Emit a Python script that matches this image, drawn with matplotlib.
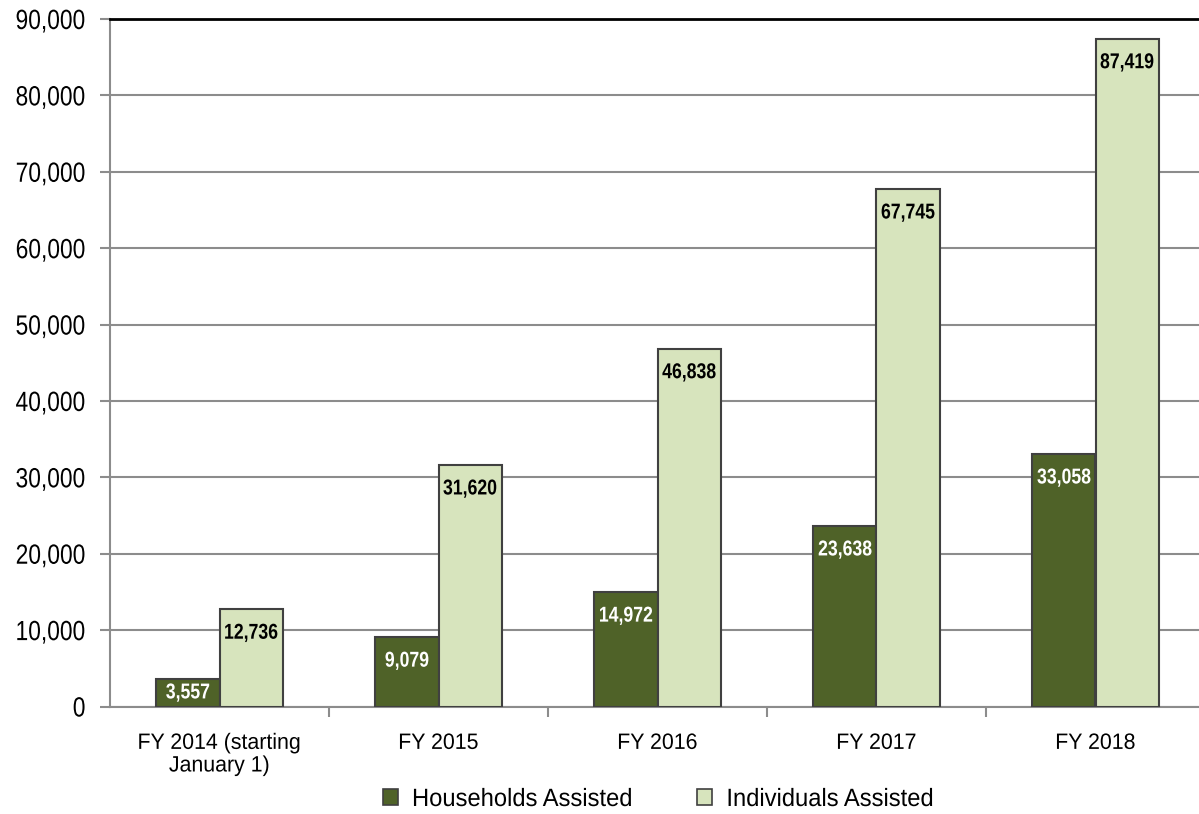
import matplotlib
matplotlib.use("Agg")
import matplotlib.pyplot as plt
from matplotlib.patches import Patch
from matplotlib.ticker import FuncFormatter, FixedLocator
from matplotlib.patheffects import AbstractPathEffect
from matplotlib.transforms import Affine2D
import numpy as np

categories = ["FY 2014 (starting\nJanuary 1)", "FY 2015", "FY 2016", "FY 2017", "FY 2018"]
households = [3557, 9079, 14972, 23638, 33058]
individuals = [12736, 31620, 46838, 67745, 87419]
series_names = ["Households Assisted", "Individuals Assisted"]

plt.rcParams['font.family'] = ['Liberation Sans', 'DejaVu Sans']


class Condense(AbstractPathEffect):
    """Horizontally compress text glyphs (emulates a narrow typeface)."""
    def __init__(self, sx=0.82, anchor='center'):
        super().__init__()
        self.sx = sx
        self.anchor = anchor

    def draw_path(self, renderer, gc, tpath, affine, rgbFace=None):
        verts = affine.transform(tpath.vertices)
        if len(verts) == 0:
            renderer.draw_path(gc, tpath, affine, rgbFace)
            return
        x0, x1 = verts[:, 0].min(), verts[:, 0].max()
        a = {'center': (x0 + x1) / 2, 'right': x1, 'left': x0}[self.anchor]
        t = affine + Affine2D().translate(-a, 0).scale(self.sx, 1).translate(a, 0)
        renderer.draw_path(gc, tpath, t, rgbFace)


W, H = 1199, 814
fig = plt.figure(figsize=(W/100, H/100), dpi=100)
left, right, bottom, top = 110, 1205, 706.5, 19
ax = fig.add_axes([left/W, (H-bottom)/H, (right-left)/W, (bottom-top)/H])

dark = "#4F6228"
light = "#D7E4BD"
edge = "#404040"
grid_c = "#8C8C8C"

x = np.arange(len(categories))
w = 0.288
b1 = ax.bar(x - w/2, households, w, color=dark, edgecolor=edge, linewidth=1.5, zorder=3)
b2 = ax.bar(x + w/2, individuals, w, color=light, edgecolor=edge, linewidth=1.5, zorder=3)

ax.set_xlim(-0.5, len(categories) - 0.5)
ax.set_ylim(0, 90000)
ax.yaxis.set_major_locator(FixedLocator(np.arange(0, 90001, 10000)))
ax.yaxis.set_major_formatter(FuncFormatter(lambda v, p: f"{int(v):,}"))
ax.grid(axis='y', color=grid_c, linewidth=1.5, zorder=0)
ax.set_axisbelow(True)

ax.xaxis.set_major_locator(FixedLocator(np.arange(0.5, len(categories) - 0.5, 1)))
ax.xaxis.set_major_formatter(FuncFormatter(lambda v, p: ""))
ax.xaxis.set_minor_locator(FixedLocator(x))
ax.set_xticklabels(categories, minor=True)
ax.tick_params(axis='x', which='major', length=7, width=1.5, color=grid_c, direction='out')
ax.tick_params(axis='x', which='minor', length=0, labelsize=16, pad=19)
ax.tick_params(axis='y', length=7, width=1.5, color=grid_c, labelsize=20, pad=10.5)

for t in ax.yaxis.get_major_ticks():
    t.label1.set_path_effects([Condense(0.82, 'right')])
for t in ax.xaxis.get_minor_ticks():
    t.label1.set_path_effects([Condense(0.96, 'center')])
    t.label1.set_linespacing(1.1)

for s in ['left', 'bottom']:
    ax.spines[s].set_color(grid_c)
    ax.spines[s].set_linewidth(1.5)
ax.spines['right'].set_visible(False)
ax.spines['top'].set_color('black')
ax.spines['top'].set_linewidth(2)

offset = 24 * 90000 / (bottom - top)
for bars, vals, col in [(b1, households, 'white'), (b2, individuals, 'black')]:
    for rect, v in zip(bars, vals):
        yc = max(v - offset, v / 2)
        ax.text(rect.get_x() + rect.get_width()/2, yc, f"{v:,}", ha='center', va='center',
                color=col, fontsize=15.5, fontweight='bold', zorder=4,
                path_effects=[Condense(0.82, 'center')])

handles = [Patch(facecolor=dark, edgecolor=edge, linewidth=1.2),
           Patch(facecolor=light, edgecolor=edge, linewidth=1.2)]
leg = fig.legend(handles, series_names, loc='center left', bbox_to_anchor=(383/W, 1 - 799/H),
                 ncol=2, frameon=False, fontsize=18, handlelength=0.6, handleheight=0.6,
                 handletextpad=0.56, columnspacing=2.15, borderpad=0, borderaxespad=0)
for txt in leg.get_texts():
    txt.set_path_effects([Condense(0.95, 'left')])

fig.savefig("out.png", dpi=100)
